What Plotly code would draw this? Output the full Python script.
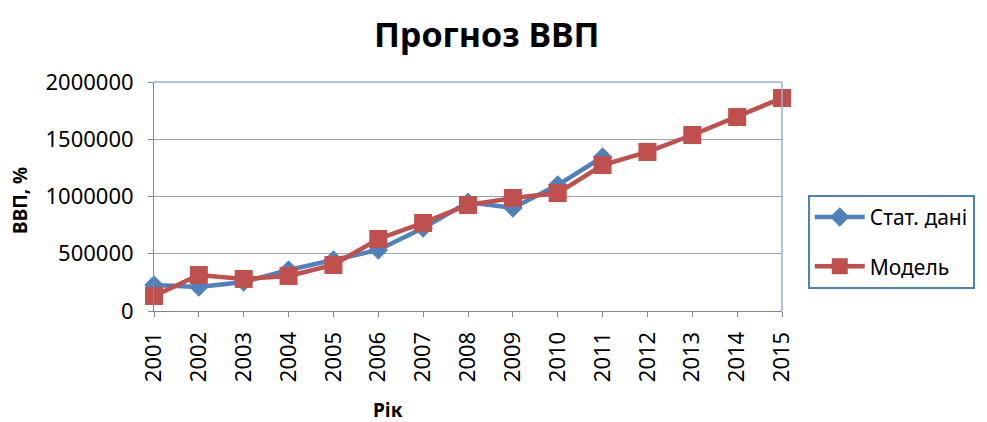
import plotly.graph_objects as go

years_stat = [2001, 2002, 2003, 2004, 2005, 2006, 2007, 2008, 2009, 2010, 2011]
stat_values = [227000, 210000, 253000, 358000, 445000, 533000, 725000, 950000, 900000, 1100000, 1345000]
years_model = [2001, 2002, 2003, 2004, 2005, 2006, 2007, 2008, 2009, 2010, 2011, 2012, 2013, 2014, 2015]
model_values = [131000, 314000, 280000, 306000, 402000, 629000, 769000, 926000, 987000, 1030000, 1275000,
                1389000, 1537000, 1694000, 1860000]
y_ticks = [0, 500000, 1000000, 1500000, 2000000]

FONT = "Noto Sans"

fig = go.Figure()
fig.add_trace(go.Scatter(
    x=years_stat, y=stat_values, name="Стат. дані", mode="lines+markers",
    line=dict(color="#4F81BD", width=4.5),
    marker=dict(symbol="diamond", size=15, color="#4F81BD"),
    cliponaxis=False, legendgroup="a",
))
fig.add_trace(go.Scatter(
    x=years_model, y=model_values, name="Модель", mode="lines+markers",
    line=dict(color="#C0504D", width=4.5),
    marker=dict(symbol="square", size=18, color="#C0504D"),
    cliponaxis=False, legendgroup="b",
))

fig.update_layout(
    width=987, height=422,
    margin=dict(l=146, r=213, t=74, b=119),
    paper_bgcolor="white", plot_bgcolor="white",
    title=dict(text="<b>Прогноз ВВП</b>", x=0.485, xanchor="center", y=0.935, yanchor="middle",
               font=dict(family=FONT, size=34, color="#000000")),
    font=dict(family=FONT, color="#000000"),
    showlegend=True,
    legend=dict(x=1.041, y=0.507, xanchor="left", yanchor="top",
                bordercolor="#4F81BD", borderwidth=2, bgcolor="white",
                font=dict(family=FONT, size=21, color="#000000"),
                traceorder="grouped", tracegroupgap=19, itemwidth=50),
    xaxis=dict(
        range=[2001, 2015], tickmode="array", tickvals=years_model,
        ticktext=[str(y) for y in years_model], tickangle=-90,
        showgrid=False, zeroline=False, showline=True, linecolor="#868686",
        ticks="outside", ticklen=5, tickcolor="#868686",
        tickfont=dict(family=FONT, size=22, color="#000000"),
        ticklabelstandoff=6,
    ),
    yaxis=dict(
        range=[0, 2000000], tickmode="array", tickvals=y_ticks,
        ticktext=[str(v) for v in y_ticks],
        showgrid=True, gridcolor="#A0A0A0", gridwidth=1, zeroline=False,
        showline=True, linecolor="#868686", ticks="outside", ticklen=5, tickcolor="#868686",
        tickfont=dict(family=FONT, size=22, color="#000000"),
        ticklabelstandoff=10,
    ),
    annotations=[
        dict(text="<b>ВВП, %</b>", xref="paper", yref="paper", x=-0.2134, y=0.485,
             xanchor="center", yanchor="middle", textangle=-90, showarrow=False,
             font=dict(family=FONT, size=19, color="#000000")),
        dict(text="<b>Рік</b>", xref="paper", yref="paper", x=0.3726, y=-0.432,
             xanchor="center", yanchor="middle", showarrow=False,
             font=dict(family=FONT, size=19, color="#000000")),
    ],
)
fig.add_shape(type="line", xref="paper", yref="paper", x0=0, x1=1, y0=1, y1=1,
              line=dict(color="#95B3D7", width=1.5))
fig.add_shape(type="line", xref="paper", yref="paper", x0=1, x1=1, y0=0, y1=1,
              line=dict(color="#95B3D7", width=1.5))

fig.write_html("out.html")
